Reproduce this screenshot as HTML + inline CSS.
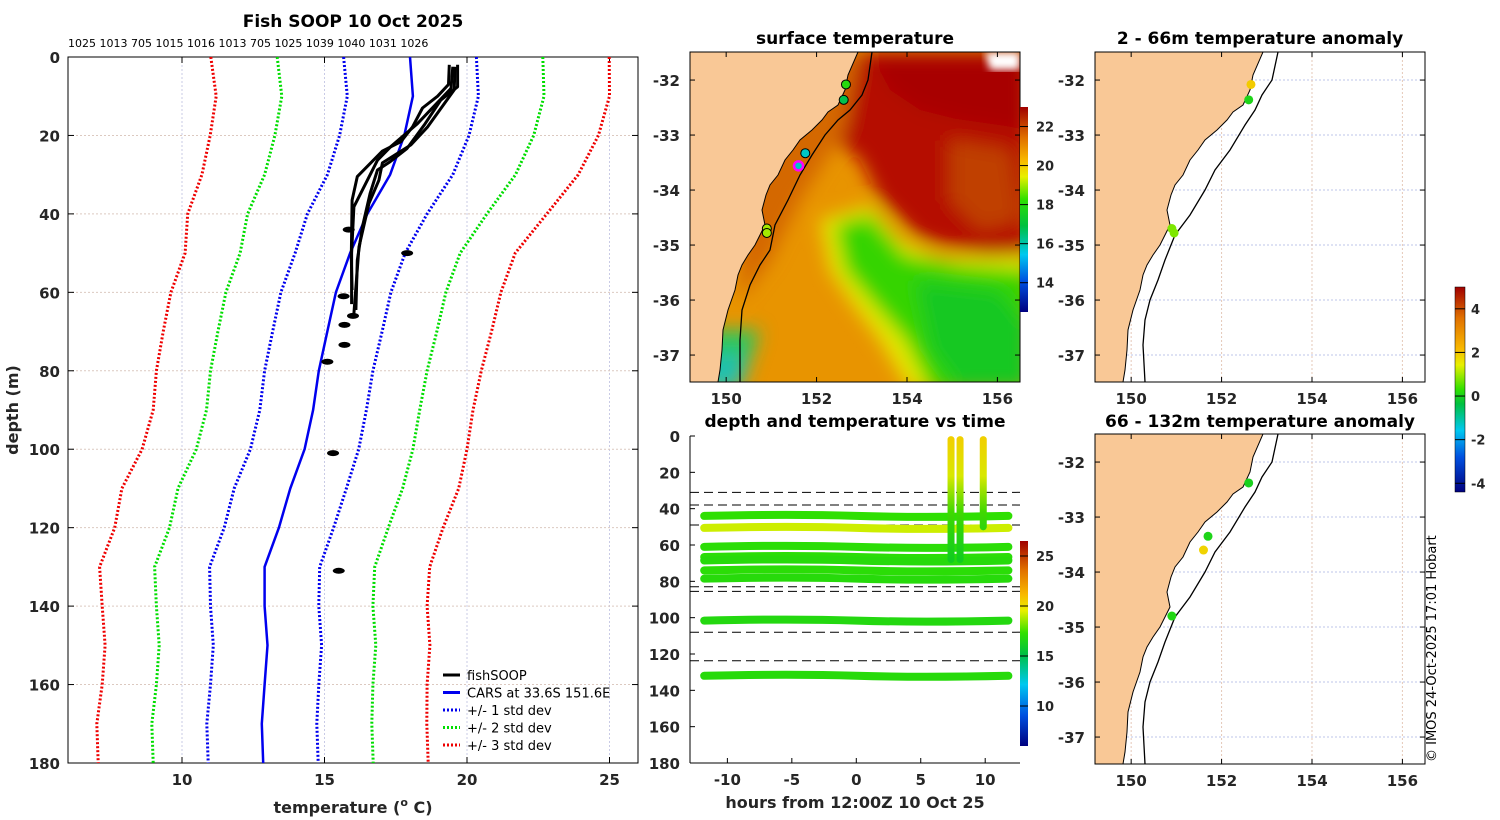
<!DOCTYPE html>
<html><head><meta charset="utf-8"><style>
html,body{margin:0;padding:0;background:#fff;}
svg{display:block;font-family:"DejaVu Sans","Liberation Sans",sans-serif;}
.tk{font-size:15px;font-weight:bold;fill:#262626;}
.tt{font-size:17px;font-weight:bold;fill:#000;}
.al{font-size:16px;font-weight:bold;fill:#262626;}
</style></head><body>
<svg id="fig" width="1500" height="820" viewBox="0 0 1500 820" xmlns="http://www.w3.org/2000/svg">
<defs>
<filter id="bl" x="-20%" y="-20%" width="140%" height="140%"><feGaussianBlur stdDeviation="9"/></filter>
<filter id="bl2"><feGaussianBlur stdDeviation="4"/></filter>
<clipPath id="cSST"><rect x="690" y="52" width="330" height="330"/></clipPath>
<clipPath id="cA1"><rect x="1095" y="52" width="330" height="330"/></clipPath>
<clipPath id="cA2"><rect x="1095" y="434" width="330" height="330"/></clipPath>
<linearGradient id="gSST" x1="0" y1="1" x2="0" y2="0">
<stop offset="0" stop-color="#00007f"/><stop offset="0.15" stop-color="#0050e0"/><stop offset="0.28" stop-color="#00c8f0"/><stop offset="0.42" stop-color="#00c040"/><stop offset="0.55" stop-color="#30e000"/><stop offset="0.66" stop-color="#e8f000"/><stop offset="0.74" stop-color="#f8b800"/><stop offset="0.85" stop-color="#e07000"/><stop offset="1" stop-color="#a00000"/></linearGradient>
<linearGradient id="gDT" x1="0" y1="1" x2="0" y2="0">
<stop offset="0" stop-color="#00007f"/><stop offset="0.15" stop-color="#0050e0"/><stop offset="0.3" stop-color="#00c8f0"/><stop offset="0.45" stop-color="#00c040"/><stop offset="0.55" stop-color="#30e000"/><stop offset="0.66" stop-color="#e8f000"/><stop offset="0.74" stop-color="#f8b800"/><stop offset="0.86" stop-color="#e07000"/><stop offset="1" stop-color="#a00000"/></linearGradient>
<linearGradient id="gAN" x1="0" y1="1" x2="0" y2="0">
<stop offset="0" stop-color="#00007f"/><stop offset="0.17" stop-color="#0050e0"/><stop offset="0.3" stop-color="#00c8f0"/><stop offset="0.43" stop-color="#00c040"/><stop offset="0.5" stop-color="#30e000"/><stop offset="0.62" stop-color="#e8f000"/><stop offset="0.7" stop-color="#f8b800"/><stop offset="0.85" stop-color="#e07000"/><stop offset="1" stop-color="#a00000"/></linearGradient>
<linearGradient id="gSpike" gradientUnits="userSpaceOnUse" x1="0" y1="440" x2="0" y2="560">
<stop offset="0" stop-color="#f0d000"/><stop offset="0.3" stop-color="#d8e800"/><stop offset="0.6" stop-color="#40d800"/><stop offset="1" stop-color="#10cc20"/></linearGradient>
</defs>
<g id="root"></g>
</svg>
<script>
// ---------- Profile chart data ----------
const depthLevels=[0,10,20,30,40,50,60,70,80,90,100,110,120,130,140,150,160,170,180];
const carsMean=[18.0,18.1,17.8,17.3,16.5,15.9,15.4,15.1,14.8,14.6,14.3,13.8,13.4,12.9,12.9,13.0,12.9,12.8,12.85];
const carsStd=[2.33,2.3,2.27,2.2,2.1,1.93,1.93,1.92,1.9,1.87,1.9,1.97,1.92,1.93,1.9,1.9,1.9,1.93,1.93];
const profA_T=[19.38,19.35,18.97,18.44,18.09,17.68,17.03,16.15,15.97,15.94,15.97];
const profA_D=[2,7,10,13,17.8,21.6,24,30.5,36.5,51,59.4];
const profB_T=[19.67,19.67,19.08,18.5,17.9,17.3,16.86,16.6,16.33,16.15,16.1];
const profB_D=[2,7.6,11,17.3,23.3,26.7,28.8,34.8,43.3,51.8,64.5];
const profC_T=[19.5,19.44,18.26,17.32,16.86,16.03,15.95,15.95];
const profC_D=[2.5,8,17,22.9,26.3,38.2,50,63];
const profD_T=[19.58,19.55,18.62,18.03,17.03,16.91,16.56,16.21,16.03];
const profD_D=[2.5,8.4,17.8,22.4,27,31.4,37.3,48.4,65.4];
const blobT=[15.85,17.9,15.67,16.0,15.7,15.7,15.1,15.3,15.5];
const blobD=[44,50,61,66,68.3,73.4,77.7,101,131];
const stationIds=["1025","1013","705","1015","1016","1013","705","1025","1039","1040","1031","1026"];
const profTicksX=[10,15,20,25];
const profTicksY=[0,20,40,60,80,100,120,140,160,180];

// ---------- depth-time data ----------
const bandDepths=[44,50.6,61,66.6,68.5,74,78.5,101.6,132];
const bandTemps=[17.2,19.2,17.0,17.0,16.8,17.0,16.8,16.6,16.8];
const dashDepths=[31,38,49,83,85.5,108,123.7];
const spikeHours=[7.35,8.05,9.85];
const spikeBottom=[68,68,50];
const dtTicksX=[-10,-5,0,5,10];
const dtTicksY=[0,20,40,60,80,100,120,140,160,180];

// ---------- map data ----------
const lonTicks=[150,152,154,156];
const latTicks=[-32,-33,-34,-35,-36,-37];
const sstMarkLon=[152.65,152.6,151.75,151.6,150.9,150.9];
const sstMarkLat=[-32.08,-32.36,-33.33,-33.56,-34.7,-34.78];
const sstMarkT=[18,16.8,15.8,15.8,19,19];
const anomTopLon=[152.65,152.6,150.9,150.95];
const anomTopLat=[-32.08,-32.36,-34.7,-34.78];
const anomTopV=[2.3,0.3,1.2,1.2];
const anomBotLon=[152.6,151.7,151.6,150.9];
const anomBotLat=[-32.38,-33.35,-33.6,-34.8];
const anomBotV=[0.2,0.3,2.2,0.4];

const NS="http://www.w3.org/2000/svg";
const root=document.getElementById('root');
function mk(tag,attrs,parent,text){const e=document.createElementNS(NS,tag);for(const k in attrs)e.setAttribute(k,attrs[k]);if(text!==undefined)e.textContent=text;(parent||root).appendChild(e);return e;}

// ===== Profile chart =====
const P={x0:68,x1:638,y0:57,y1:763,t0:6,t1:26,d0:0,d1:180};
const px=t=>P.x0+(t-P.t0)/(P.t1-P.t0)*(P.x1-P.x0);
const py=d=>P.y0+(d-P.d0)/(P.d1-P.d0)*(P.y1-P.y0);
const gP=mk('g',{});


profTicksX.forEach(t=>{const l=mk('line',{x1:px(t),x2:px(t),y1:P.y0,y2:P.y1,stroke:'#c9cbe6','stroke-width':1,'stroke-dasharray':'2,2'},gP);});
profTicksY.forEach(d=>{const l=mk('line',{x1:P.x0,x2:P.x1,y1:py(d),y2:py(d),stroke:'#dcc9c0','stroke-width':1,'stroke-dasharray':'2,2'},gP);});
const fr=mk('rect',{x:P.x0,y:P.y0,width:P.x1-P.x0,height:P.y1-P.y0,fill:'none',stroke:'#000','stroke-width':1},gP);

profTicksX.forEach(t=>{mk('line',{x1:px(t),x2:px(t),y1:P.y1,y2:P.y1-6,stroke:'#000'},gP);mk('line',{x1:px(t),x2:px(t),y1:P.y0,y2:P.y0+6,stroke:'#000'},gP);
 const tx=mk('text',{x:px(t),y:P.y1+22,'text-anchor':'middle',class:'tk'},gP,String(t));});
profTicksY.forEach(d=>{mk('line',{x1:P.x0,x2:P.x0+6,y1:py(d),y2:py(d),stroke:'#000'},gP);mk('line',{x1:P.x1,x2:P.x1-6,y1:py(d),y2:py(d),stroke:'#000'},gP);
 const tx=mk('text',{x:P.x0-8,y:py(d)+6,'text-anchor':'end',class:'tk'},gP,String(d));});
const pTitle=mk('text',{x:353,y:27,'text-anchor':'middle',class:'tt'},gP,'Fish SOOP 10 Oct 2025');

const ids=mk('text',{x:68,y:47,'font-size':'11px',fill:'#000'},gP,stationIds.join(' '));

const xl=mk('text',{x:353,y:813,'text-anchor':'middle',class:'al'},gP);

xl.innerHTML='temperature (<tspan font-size="11px" dy="-7">o</tspan><tspan dy="7"> C)</tspan>';
const yl=mk('text',{x:18,y:410,'text-anchor':'middle',class:'al',transform:'rotate(-90 18 410)'},gP,'depth (m)');


function pathFrom(T,D){return T.map((t,i)=>(i?'L':'M')+px(t).toFixed(1)+','+py(D[i]).toFixed(1)).join(' ');}
const sdColors=['#0000ee','#00dd00','#ee0000'];
const sdNames=['std-dev-1','std-dev-2','std-dev-3'];
[1,2,3].forEach(k=>{[-1,1].forEach(s=>{
 const T=carsMean.map((m,i)=>m+s*k*carsStd[i]);
 const p=mk('path',{d:pathFrom(T,depthLevels),fill:'none',stroke:sdColors[k-1],'stroke-width':3,'stroke-dasharray':'2,2'},gP);
 });});
const cars=mk('path',{d:pathFrom(carsMean,depthLevels),fill:'none',stroke:'#0000ee','stroke-width':2.5},gP);

[[profA_T,profA_D],[profB_T,profB_D],[profC_T,profC_D],[profD_T,profD_D]].forEach(([T,D])=>{
 const p=mk('path',{d:pathFrom(T,D),fill:'none',stroke:'#000','stroke-width':3,'stroke-linejoin':'round'},gP);
 });
blobT.forEach((t,i)=>{const b=mk('ellipse',{cx:px(t),cy:py(blobD[i]),rx:6,ry:3,fill:'#000'},gP);});
// legend
const lg=mk('g',{},gP);
const legItems=[['fishSOOP','#000',''],['CARS at 33.6S 151.6E','#0000ee',''],['+/- 1 std dev','#0000ee','2,2'],['+/- 2 std dev','#00dd00','2,2'],['+/- 3 std dev','#ee0000','2,2']];
legItems.forEach((it,i)=>{const y=675+i*17.5;
 mk('line',{x1:443,x2:460,y1:y,y2:y,stroke:it[1],'stroke-width':3,'stroke-dasharray':it[2]||'none'},lg);
 const t=mk('text',{x:467,y:y+5,'font-size':'13px',fill:'#000'},lg,it[0]);});

// ===== Maps =====
const M={x0:690,y0:52,w:330,h:330,lon0:149.2,lon1:156.5,lat0:-31.49,lat1:-37.49};
const mxL=(lon,ox)=>ox+(lon-M.lon0)/(M.lon1-M.lon0)*M.w;
const myL=(lat,oy)=>oy+(lat-M.lat0)/(M.lat1-M.lat0)*M.h;
const coastPx="858,52 848,75 845,90 838,105 828,112 822,120 812,130 800,140 793,150 785,160 778,175 770,185 766,195 762,210 765,225 760,235 755,245 748,255 742,265 738,275 735,290 728,310 723,330 722,350 720,370 718,382";
const isoSST="872,52 868,80 862,95 850,110 838,120 825,135 812,155 800,175 788,200 775,225 770,250 760,265 750,285 742,310 740,340 740,382";
const isoAnom="873,52 867,80 857,95 850,110 840,125 825,150 810,170 800,190 785,215 770,235 760,260 753,280 745,300 740,320 738,345 740,382";
function landPoly(){return "690,52 "+coastPx+" 690,382";}

function mapAxes(g,ox,oy,title,titleY){
 const fr=mk('rect',{x:ox,y:oy,width:M.w,height:M.h,fill:'none',stroke:'#000','stroke-width':1},g);
 
 lonTicks.forEach(l=>{const x=mxL(l,ox);mk('line',{x1:x,x2:x,y1:oy+M.h,y2:oy+M.h-5,stroke:'#000'},g);mk('line',{x1:x,x2:x,y1:oy,y2:oy+5,stroke:'#000'},g);
  const t=mk('text',{x:x,y:oy+M.h+22,'text-anchor':'middle',class:'tk'},g,String(l));});
 latTicks.forEach(l=>{const y=myL(l,oy);mk('line',{x1:ox,x2:ox+5,y1:y,y2:y,stroke:'#000'},g);mk('line',{x1:ox+M.w,x2:ox+M.w-5,y1:y,y2:y,stroke:'#000'},g);
  const t=mk('text',{x:ox-10,y:y+6,'text-anchor':'end',class:'tk'},g,String(l));});
 const tt=mk('text',{x:ox+M.w/2,y:titleY,'text-anchor':'middle',class:'tt'},g,title);
}
function sstColor(t){const f=(t-12.5)/(23-12.5);return colorAt(f);}
const stops=[[0,[0,0,127]],[0.15,[0,80,224]],[0.28,[0,200,240]],[0.42,[0,192,64]],[0.55,[48,224,0]],[0.66,[232,240,0]],[0.74,[248,184,0]],[0.85,[224,112,0]],[1,[160,0,0]]];
function colorAt(f){f=Math.max(0,Math.min(1,f));for(let i=1;i<stops.length;i++){if(f<=stops[i][0]){const a=stops[i-1],b=stops[i],u=(f-a[0])/(b[0]-a[0]);return 'rgb('+a[1].map((v,j)=>Math.round(v+(b[1][j]-v)*u)).join(',')+')';}}return 'rgb(160,0,0)';}
function anomColor(v){return colorAt((v+4.4)/9.4);}
function dtColor(t){return colorAt((t-6)/(26.5-6));}

// SST map
const gS=mk('g',{});
const gSc=mk('g',{'clip-path':'url(#cSST)'},gS);
mk('rect',{x:690,y:52,width:330,height:330,fill:'#e89400'},gSc);
const sf=mk('g',{filter:'url(#bl)'},gSc);
mk('polygon',{points:"850,52 1030,52 1030,265 960,250 920,240 880,200 860,160 835,140",fill:'#b51000'},sf);
mk('polygon',{points:"870,52 1030,52 1030,130 960,120 920,110 890,90",fill:'#a80000'},sf);
mk('polygon',{points:"950,140 1010,150 1020,220 980,230 950,200",fill:'#c04000'},sf);
mk('polygon',{points:"740,52 860,52 845,130 800,200 770,260 740,300",fill:'#d46800'},sf);
mk('polygon',{points:"820,220 870,205 900,240 940,258 1030,255 1030,390 910,390 880,340 850,300 830,270",fill:'#e6e800'},sf);
mk('polygon',{points:"835,225 870,215 905,255 960,265 1030,270 1030,390 930,390 905,340 870,300 845,270",fill:'#34d400'},sf);
mk('polygon',{points:"915,280 1000,290 1030,330 1030,390 960,390 930,350",fill:'#18c820'},sf);
mk('polygon',{points:"700,330 760,330 740,390 700,390",fill:'#2ac860'},sf);
mk('polygon',{points:"705,355 745,355 740,390 705,390",fill:'#20c0b0'},sf);
mk('polygon',{points:"985,52 1020,52 1020,70 990,70",fill:'#ffffff',filter:'url(#bl2)'},gSc);
const ld=mk('polygon',{points:landPoly(),fill:'#f9c896',stroke:'#000','stroke-width':1},gSc);
const iso=mk('polyline',{points:isoSST,fill:'none',stroke:'#000','stroke-width':1.3},gSc);
sstMarkLon.forEach((lo,i)=>{const c=mk('circle',{cx:mxL(lo,690),cy:myL(sstMarkLat[i],52),r:4.5,fill:sstColor(sstMarkT[i]),stroke:i==3?'#ff00ff':'#000','stroke-width':i==3?2.5:1},gS);});
mapAxes(gS,690,52,'surface temperature',44);
// SST colorbar
const sstCbTicks=[14,16,18,20,22];
const cbS=mk('rect',{x:1020,y:107,width:8,height:205,fill:'url(#gSST)'},gS);
sstCbTicks.forEach(t=>{const y=312-(t-12.5)/(23-12.5)*205;mk('line',{x1:1020,x2:1028,y1:y,y2:y,stroke:'#000'},gS);const tx=mk('text',{x:1036,y:y+5,'font-size':'13px','font-weight':'bold',fill:'#262626'},gS,String(t));});

// Anomaly maps
function anomMap(oy,title,titleY,Lon,Lat,V,clip){
 const g=mk('g',{});
 const c=mk('g',{'clip-path':'url(#'+clip+')'},g);
 latTicks.forEach(l=>mk('line',{x1:1095,x2:1425,y1:myL(l,oy),y2:myL(l,oy),stroke:'#bcc4ea','stroke-dasharray':'2,2'},c));
 lonTicks.forEach(l=>mk('line',{x1:mxL(l,1095),x2:mxL(l,1095),y1:oy,y2:oy+330,stroke:'#e5c8b8','stroke-dasharray':'2,2'},c));
 const t=mk('g',{transform:'translate(405,'+(oy-52)+')'},c);
 const ld=mk('polygon',{points:landPoly(),fill:'#f9c896',stroke:'#000','stroke-width':1},t);
 const is=mk('polyline',{points:isoAnom,fill:'none',stroke:'#000','stroke-width':1.3},t);
 Lon.forEach((lo,i)=>{const m=mk('circle',{cx:mxL(lo,1095),cy:myL(Lat[i],oy),r:4.5,fill:anomColor(V[i])},g);});
 mapAxes(g,1095,oy,title,titleY);
}
anomMap(52,'2 - 66m temperature anomaly',44,anomTopLon,anomTopLat,anomTopV,'cA1');
anomMap(434,'66 - 132m temperature anomaly',427,anomBotLon,anomBotLat,anomBotV,'cA2');
const anomCbTicks=[-4,-2,0,2,4];
const cbA=mk('rect',{x:1455,y:287,width:10,height:205,fill:'url(#gAN)',stroke:'#000','stroke-width':0.5});
anomCbTicks.forEach(v=>{const y=492-(v+4.4)/9.4*205;mk('line',{x1:1455,x2:1465,y1:y,y2:y,stroke:'#000'});const tx=mk('text',{x:1471,y:y+5,'font-size':'13px','font-weight':'bold',fill:'#262626'},root,String(v));});

// ===== Depth-time chart =====
const DT={x0:690,x1:1020,y0:436,y1:763,h0:-12.9,h1:12.7};
const dx=h=>DT.x0+(h-DT.h0)/(DT.h1-DT.h0)*(DT.x1-DT.x0);
const dy=d=>DT.y0+d/180*(DT.y1-DT.y0);
const gD=mk('g',{});
dashDepths.forEach(d=>{const l=mk('line',{x1:DT.x0,x2:DT.x1,y1:dy(d),y2:dy(d),stroke:'#000','stroke-width':1,'stroke-dasharray':'9,5'},gD);});
bandDepths.forEach((d,i)=>{const x1=dx(-11.8),x2=dx(11.8),y=dy(d);
 const b=mk('path',{d:`M${x1},${y} Q${dx(-5)},${y-2} ${dx(0)},${y} T${x2},${y}`,fill:'none',stroke:dtColor(bandTemps[i]),'stroke-width':8,'stroke-linecap':'round'},gD);
 });
spikeHours.forEach((h,i)=>{const x=dx(h);
 const s=mk('path',{d:`M${x},${dy(2)} L${x},${dy(spikeBottom[i])}`,fill:'none',stroke:'url(#gSpike)','stroke-width':7,'stroke-linecap':'round'},gD);
 });
mk('line',{x1:DT.x0,x2:DT.x0,y1:DT.y0,y2:DT.y1,stroke:'#000'},gD);
mk('line',{x1:DT.x0,x2:DT.x1,y1:DT.y1,y2:DT.y1,stroke:'#000'},gD);
dtTicksX.forEach(h=>{mk('line',{x1:dx(h),x2:dx(h),y1:DT.y1,y2:DT.y1-5,stroke:'#000'},gD);const t=mk('text',{x:dx(h),y:DT.y1+22,'text-anchor':'middle',class:'tk'},gD,String(h));});
dtTicksY.forEach(d=>{mk('line',{x1:DT.x0,x2:DT.x0+5,y1:dy(d),y2:dy(d),stroke:'#000'},gD);const t=mk('text',{x:DT.x0-10,y:dy(d)+6,'text-anchor':'end',class:'tk'},gD,String(d));});
const dtT=mk('text',{x:855,y:427,'text-anchor':'middle',class:'tt'},gD,'depth and temperature vs time');
const dtX=mk('text',{x:855,y:808,'text-anchor':'middle',class:'al'},gD,'hours from 12:00Z 10 Oct 25');
const dtCbTicks=[10,15,20,25];
const cbD=mk('rect',{x:1020,y:541,width:8,height:205,fill:'url(#gDT)'},gD);
dtCbTicks.forEach(t=>{const y=746-(t-6)/(26.5-6)*205;mk('line',{x1:1020,x2:1028,y1:y,y2:y,stroke:'#000'},gD);const tx=mk('text',{x:1036,y:y+5,'font-size':'13px','font-weight':'bold',fill:'#262626'},gD,String(t));});

const cr=mk('text',{x:1436,y:762,'font-size':'13px',fill:'#000',transform:'rotate(-90 1436 762)'},root,'© IMOS 24-Oct-2025 17:01 Hobart');

</script>
</body></html>
